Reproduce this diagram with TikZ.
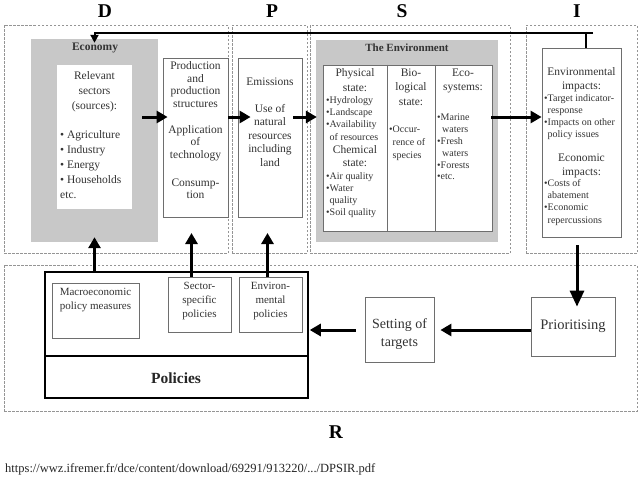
\documentclass[tikz,border=0pt]{standalone}
\usepackage{fontspec}
\setmainfont{Liberation Serif}
\usetikzlibrary{arrows.meta}
\definecolor{gfill}{HTML}{C8C8C8}
\definecolor{dline}{HTML}{959595}
\definecolor{bline}{HTML}{6E6E6E}
\definecolor{txt}{HTML}{333333}
\newcommand{\myfs}[2]{\fontsize{#1}{#2}\selectfont}
\tikzset{
  sz/.style 2 args={minimum width=#1pt, minimum height=#2pt},
  dbox/.style={draw=dline, dash pattern=on 2.5pt off 1.5pt, line width=0.7pt, inner sep=0},
  wbox/.style={draw=bline, fill=white, line width=0.8pt, inner sep=0},
  gbox/.style={fill=gfill, inner sep=0},
  polbox/.style={draw=black, line width=1.5pt, fill=white, inner sep=0},
  arr/.style={line width=3pt, -{Triangle[length=11pt,width=12pt]}},
  bigarr/.style={line width=3pt, -{Triangle[length=16pt,width=14pt]}},
  fbarr/.style={line width=2pt, -{Triangle[length=8pt,width=8pt]}},
  fbthin/.style={line width=1.2pt},
  tx/.style={text=txt, inner sep=0, align=center},
  txl/.style={text=txt, inner sep=0, align=left},
  hdr/.style={inner sep=0, font=\bfseries\myfs{19.5}{20}},
}
\begin{document}
\begin{tikzpicture}[x=1pt,y=-1pt]
\useasboundingbox (0,0) rectangle (640,480);
\fill[white] (0,0) rectangle (640,480);

% dashed frames
\node[dbox, sz={224}{228}] (dD) at (116,139) {};
\node[dbox, sz={75}{228}] (dP) at (269.5,139) {};
\node[dbox, sz={200}{228}] (dS) at (410,139) {};
\node[dbox, sz={111}{228}] (dI) at (581.5,139) {};
\node[dbox, sz={633}{146}] (dR) at (320.5,338) {};

% headers
\node[hdr] (hD) at (105,11) {D};
\node[hdr] (hP) at (272,11) {P};
\node[hdr] (hS) at (402,11) {S};
\node[hdr] (hI) at (577,11) {I};
\node[hdr] (hR) at (336,432) {R};

% boxes
\node[gbox, sz={127}{203}] (econ) at (94.5,140.5) {};
\node[fill=white, inner sep=0, sz={75}{144}] (sect) at (94.5,137) {};
\node[wbox, sz={65}{159}] (prod) at (195.5,137.5) {};
\node[wbox, sz={64}{159}] (emis) at (270,137.5) {};
\node[gbox, sz={182}{202}] (env) at (407,141) {};
\node[wbox, sz={169}{166}] (tab) at (407.5,148) {};
\node[wbox, sz={79}{189}] (imp) at (581.5,142.5) {};
\node[polbox, sz={263}{126}] (pol) at (176.5,335) {};
\node[wbox, sz={87}{55}] (macro) at (95.5,310.5) {};
\node[wbox, sz={63}{55}] (secp) at (199.5,304.5) {};
\node[wbox, sz={63}{55}] (envp) at (270.5,304.5) {};
\node[wbox, sz={69}{65}] (set) at (399.5,329.5) {};
\node[wbox, sz={84}{59}] (prio) at (573,326.5) {};

% dividers
\coordinate (pdiv) at (0,356);
\draw[line width=1.2pt] (pol.west |- pdiv) -- (pol.east |- pdiv);
\coordinate (cA) at (387,0);
\coordinate (cB) at (435,0);
\draw[bline, line width=0.8pt] (tab.north -| cA) -- (tab.south -| cA);
\draw[bline, line width=0.8pt] (tab.north -| cB) -- (tab.south -| cB);

% texts - Economy
\node[inner sep=0, font=\bfseries\myfs{11.5}{12}, text=txt] (teco) at (95,48) {Economy};
\node[tx, anchor=north, font=\myfs{11.5}{15}] (tsec1) at (94.5,71.4) {Relevant\\sectors\\(sources):};
\node[txl, anchor=north west, font=\myfs{11.5}{15}] (tsec2) at (60,130.4) {• Agriculture\\• Industry\\• Energy\\• Households\\etc.};
\node[tx, anchor=north, font=\myfs{11.5}{12.5}] (tprod) at (195.5,61.4) {Production\\and\\production\\structures\\[13.5pt]Application\\of\\technology\\[15.5pt]Consump-\\tion};
\node[tx, anchor=north, font=\myfs{11.5}{13.5}] (temis) at (270,77.4) {Emissions\\[13.5pt]Use of\\natural\\resources\\including\\land};

% Environment
\node[inner sep=0, font=\bfseries\myfs{11}{12}, text=txt] (tenv) at (407,48) {The Environment};
\node[tx, anchor=north, font=\myfs{11.5}{14.5}] (c1h1) at (355,68.4) {Physical\\state:};
\node[txl, anchor=north west, font=\myfs{10}{12.3}] (c1b1) at (326,96) {•Hydrology\\•Landscape\\•Availability\\\phantom{•}of resources};
\node[tx, anchor=north, font=\myfs{11.5}{13}] (c1h2) at (355,145.4) {Chemical\\state:};
\node[txl, anchor=north west, font=\myfs{10}{12}] (c1b2) at (326,172) {•Air quality\\•Water\\\phantom{•}quality\\•Soil quality};
\node[tx, anchor=north, font=\myfs{11.5}{14.5}] (c2h) at (411,68.4) {Bio-\\logical\\state:};
\node[txl, anchor=north west, font=\myfs{10}{13}] (c2b) at (389,126) {•Occur-\\\phantom{•}rence of\\\phantom{•}species};
\node[tx, anchor=north, font=\myfs{11.5}{14.5}] (c3h) at (463,68.4) {Eco-\\systems:};
\node[txl, anchor=north west, font=\myfs{10}{11.8}] (c3b) at (437,114) {•Marine\\\hspace*{5pt}waters\\•Fresh\\\hspace*{5pt}waters\\•Forests\\•etc.};

% Impacts
\node[tx, anchor=north, font=\myfs{11.5}{14}] (ih1) at (581.5,67.4) {Environmental\\impacts:};
\node[txl, anchor=north west, font=\myfs{10}{12}] (ib1) at (544,94) {•Target indicator-\\\phantom{•}response\\•Impacts on other\\\phantom{•}policy issues};
\node[tx, anchor=north, font=\myfs{11.5}{14}] (ih2) at (581.5,153.4) {Economic\\impacts:};
\node[txl, anchor=north west, font=\myfs{10}{12.3}] (ib2) at (544,179) {•Costs of\\\phantom{•}abatement\\•Economic\\\phantom{•}repercussions};

% bottom texts
\node[tx, anchor=north, font=\myfs{11}{14}] (tmac) at (95.5,288.4) {Macroeconomic\\policy measures};
\node[tx, anchor=north, font=\myfs{11}{13.7}] (tsp) at (199.5,282.4) {Sector-\\specific\\policies};
\node[tx, anchor=north, font=\myfs{11}{13.7}] (tep) at (270.5,282.4) {Environ-\\mental\\policies};
\node[tx, anchor=north, font=\myfs{14}{18}] (tset) at (399.5,318.4) {Setting of\\targets};
\node[tx, font=\myfs{14.5}{16}] (tprio) at (573,326) {Prioritising};
\node[inner sep=0, font=\bfseries\myfs{15.5}{16}, text=black!85] (tpol) at (176,378) {Policies};

\node[inner sep=0, anchor=base west, font=\myfs{12.5}{14}, text=black!85] (url) at (5,472) {https://wwz.ifremer.fr/dce/content/download/69291/913220/.../DPSIR.pdf};

% arrows
\coordinate (row) at (0,117);
\draw[arr] ([xshift=10pt]sect.east |- row) -- ([xshift=5pt]prod.west |- row);
\draw[arr] (prod.east |- row) -- ([xshift=13pt]emis.west |- row);
\draw[arr] ([xshift=-9pt]emis.east |- row) -- ([xshift=1pt]env.west |- row);
\draw[arr] ([xshift=-7pt]env.east |- row) -- (imp.west |- row);

\coordinate (tipA) at (0,233);
\coordinate (a2) at (191.5,0);
\coordinate (a3) at (267.5,0);
\coordinate (a4) at (577,0);
\draw[arr] (pol.north -| econ.south) -- ([yshift=5pt]econ.south);
\draw[arr] (secp.north -| a2) -- (a2 |- tipA);
\draw[arr] (envp.north -| a3) -- (a3 |- tipA);
\draw[bigarr] ([yshift=-8pt]imp.south -| a4) -- ([yshift=-10pt]prio.north -| a4);

\coordinate (row2) at (0,330);
\draw[arr] (prio.west |- row2) -- ([xshift=6pt]set.east |- row2);
\draw[arr] ([xshift=-9pt]set.west |- row2) -- ([xshift=1pt]pol.east |- row2);

% feedback line
\coordinate (fbR) at (593,33);
\coordinate (fbL) at (94.5,33);
\coordinate (a5) at (586,0);
\draw[fbthin] (imp.north -| a5) -- (fbR -| a5);
\draw[fbarr] (fbR) -- (fbL) -- ([yshift=-4pt]econ.north);
\end{tikzpicture}
\end{document}
